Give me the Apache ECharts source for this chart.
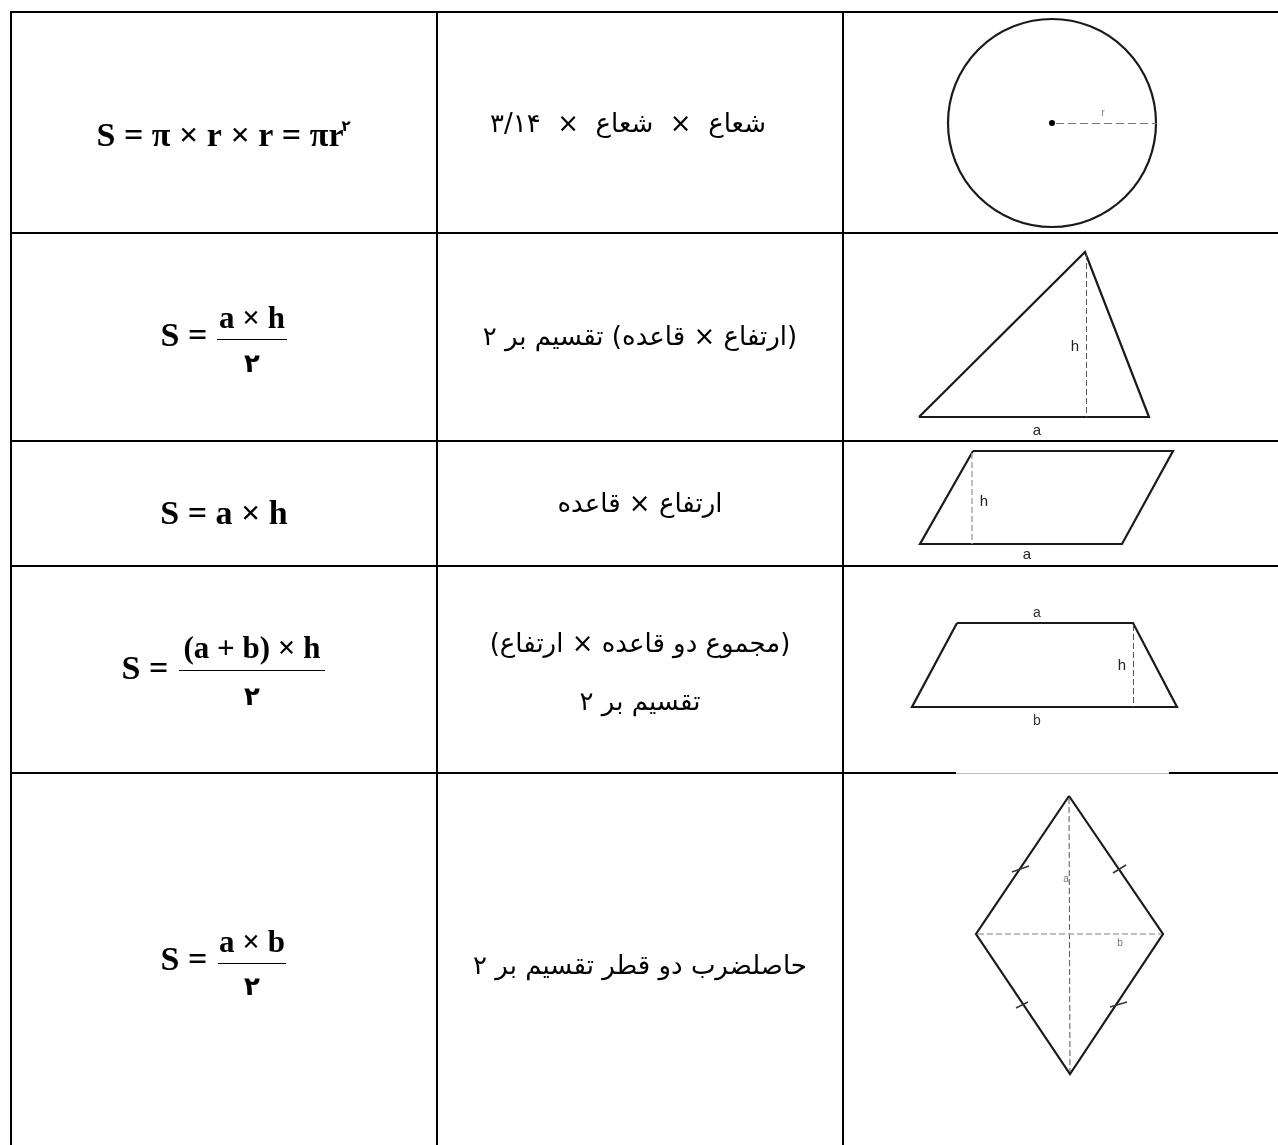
<!DOCTYPE html>
<html lang="fa" style="height: 100%">

<head>
  <meta charset="utf-8">
</head>

<body style="height: 100%; margin: 0; background: #fff">
  <div id="container" style="width: 1278px; height: 1145px"></div>

  <script type="text/javascript" src="https://fastly.jsdelivr.net/npm/echarts@6/dist/echarts.min.js"></script>

  <script type="text/javascript">
    // table: column / row borders (axis units = page pixels)
    var colEdges = [11, 437, 843];
    var rowEdges = [12, 233, 441, 566, 773];
    var tableEnd = [1278, 1145];

    // column 1: formulas
    var formulaMain = ['S = π × r × r = πr', 'S =', 'S = a × h', 'S =', 'S ='];
    var formulaSup = ['۲', null, null, null, null];
    var formulaNum = [null, 'a × h', null, '(a + b) × h', 'a × b'];
    var formulaDen = [null, '۲', null, '۲', '۲'];

    // column 2: descriptions (Persian, right to left)
    var descriptions = [
      ['شعاع  ×  شعاع  ×  ۳/۱۴'],
      ['(ارتفاع × قاعده) تقسیم بر ۲'],
      ['ارتفاع × قاعده'],
      ['(مجموع دو قاعده × ارتفاع)', 'تقسیم بر ۲'],
      ['حاصلضرب دو قطر تقسیم بر ۲']
    ];

    // column 3: figures
    var circleData = [[1052, 123, 104]];
    var circleRadiusLine = [[1056, 123], [1157, 123]];
    var triangle = [[919, 417], [1085, 252], [1149, 417], [919, 417]];
    var triangleHeight = [[1086, 254], [1086, 417]];
    var parallelogram = [[973, 451], [1173, 451], [1122, 544], [920, 544], [973, 451]];
    var parallelogramHeight = [[972, 453], [972, 544]];
    var trapezoid = [[957, 623], [1133, 623], [1177, 707], [912, 707], [957, 623]];
    var trapezoidHeight = [[1133, 625], [1133, 707]];
    var rhombus = [[1069, 796], [1163, 934], [1070, 1074], [976, 934], [1069, 796]];
    var rhombusDiagA = [[1069, 798], [1070, 1072]];
    var rhombusDiagB = [[978, 934], [1161, 934]];
    var rhombusTicks = [
      [[1012, 872], [1029, 866]],
      [[1113, 873], [1126, 865]],
      [[1016, 1008], [1028, 1002]],
      [[1110, 1007], [1127, 1002]]
    ];
    var figureLabels = [
      [1103, 113, 'r', 11, '#888'],
      [1075, 347, 'h', 15, '#222'],
      [1037, 431, 'a', 15, '#222'],
      [984, 502, 'h', 15, '#222'],
      [1027, 555, 'a', 15, '#222'],
      [1037, 613, 'a', 14, '#333'],
      [1122, 666, 'h', 15, '#222'],
      [1037, 721, 'b', 14, '#333'],
      [1066, 879, 'a', 10, '#777'],
      [1120, 943, 'b', 10, '#777']
    ];

    var col2 = (colEdges[1] + colEdges[2]) / 2;
    var fracX = 252;
    var RLE = '\u202B', PDF = '\u202C';

    // text placement per row
    var mainPos = [[220, 137], [184, 337], [224, 515], [145, 670], [184, 961]];
    var supPos = [[346, 127]];
    var numY = [null, 320, null, 650, 944];
    var barY = [null, 339, null, 670, 963];
    var barHalf = [null, 35, null, 73, 34];
    var denY = [null, 365, null, 698, 988];
    var descX = [628, col2, col2, col2, col2];
    var descY = [[125], [338], [505], [645, 703], [967]];

    // table border segments
    var tableSegs = [];
    rowEdges.forEach(function (y, i) {
      if (i === 4) {
        tableSegs.push({ coords: [[10, y], [956, y]] });
        tableSegs.push({ coords: [[1169, y], [tableEnd[0], y]] });
      } else {
        tableSegs.push({ coords: [[10, y], [tableEnd[0], y]] });
      }
    });
    colEdges.forEach(function (x) {
      tableSegs.push({ coords: [[x, rowEdges[0] - 1], [x, tableEnd[1]]] });
    });

    var serifFont = "'Liberation Serif', 'Times New Roman', 'DejaVu Serif', serif";
    var persianFont = "'DejaVu Sans', sans-serif";

    function textSeries(points, label) {
      return {
        type: 'scatter',
        silent: true,
        symbolSize: 0,
        z: 5,
        itemStyle: { opacity: 1 },
        data: points.map(function (p) {
          return { name: p[2], value: [p[0], p[1]] };
        }),
        label: Object.assign({
          show: true,
          position: 'inside',
          color: '#000',
          opacity: 1,
          textBorderWidth: 0,
          textShadowBlur: 0,
          formatter: function (params) { return params.name; }
        }, label)
      };
    }

    function lineSeries(data, style, polyline) {
      return {
        type: 'lines',
        coordinateSystem: 'cartesian2d',
        polyline: !!polyline,
        silent: true,
        data: data,
        lineStyle: Object.assign({ color: '#1a1a1a', width: 2.2, opacity: 1 }, style)
      };
    }

    var mainPts = [], supPts = [], numPts = [], denPts = [], bars = [], descPts = [];
    formulaMain.forEach(function (t, i) {
      mainPts.push([mainPos[i][0], mainPos[i][1], t]);
      if (formulaSup[i]) supPts.push([supPos[i][0], supPos[i][1], formulaSup[i]]);
      if (formulaNum[i]) {
        numPts.push([fracX, numY[i], formulaNum[i]]);
        denPts.push([fracX, denY[i], formulaDen[i]]);
        bars.push({ coords: [[fracX - barHalf[i], barY[i]], [fracX + barHalf[i], barY[i]]] });
      }
    });
    descriptions.forEach(function (lines, i) {
      lines.forEach(function (t, j) {
        descPts.push([descX[i], descY[i][j], RLE + t + PDF]);
      });
    });

    var dom = document.getElementById('container');
    var myChart = echarts.init(dom, null, { renderer: 'canvas' });

    var option = {
      animation: false,
      backgroundColor: '#fff',
      grid: { left: 0, right: 0, top: 0, bottom: 0 },
      xAxis: { type: 'value', min: 0, max: tableEnd[0], show: false },
      yAxis: { type: 'value', min: 0, max: tableEnd[1], inverse: true, show: false },
      series: [
        lineSeries(tableSegs, { color: '#000', width: 2 }),
        lineSeries([{ coords: [[956, 773], [1169, 773]] }], { color: '#bbb', width: 1 }),
        {
          type: 'custom',
          silent: true,
          data: circleData,
          renderItem: function (params, api) {
            var c = api.coord([api.value(0), api.value(1)]);
            var r = api.size([api.value(2), 0])[0];
            return {
              type: 'group',
              children: [
                { type: 'circle', shape: { cx: c[0], cy: c[1], r: r }, style: { fill: 'none', stroke: '#1a1a1a', lineWidth: 2.2 } },
                { type: 'circle', shape: { cx: c[0], cy: c[1], r: 3 }, style: { fill: '#000' } }
              ]
            };
          }
        },
        lineSeries([{ coords: circleRadiusLine }], { color: '#777', width: 1, type: [8, 4] }),
        lineSeries([{ coords: triangle }, { coords: parallelogram }, { coords: trapezoid }, { coords: rhombus }], {}, true),
        lineSeries([{ coords: triangleHeight }, { coords: trapezoidHeight }, { coords: rhombusDiagA }], { color: '#555', width: 1, type: [6, 3] }),
        lineSeries([{ coords: parallelogramHeight }, { coords: rhombusDiagB }], { color: '#aaa', width: 1.5, type: [6, 3] }),
        lineSeries(rhombusTicks.map(function (t) { return { coords: t }; }), { color: '#333', width: 1.5 }),
        lineSeries(bars, { color: '#000', width: 1 }),
        textSeries(mainPts, { fontFamily: serifFont, fontWeight: 'bold', fontSize: 34 }),
        textSeries(supPts, { fontFamily: persianFont, fontWeight: 'bold', fontSize: 15 }),
        textSeries(numPts, { fontFamily: serifFont, fontWeight: 'bold', fontSize: 31 }),
        textSeries(denPts, { fontFamily: persianFont, fontWeight: 'bold', fontSize: 26 }),
        textSeries(descPts, { fontFamily: persianFont, fontSize: 26 })
      ].concat(figureLabels.map(function (l) {
        return textSeries([[l[0], l[1], l[2]]], { fontFamily: "'Liberation Sans', Arial, sans-serif", fontSize: l[3], color: l[4] });
      }))
    };

    myChart.setOption(option);
    window.addEventListener('resize', myChart.resize);
  </script>
</body>

</html>
